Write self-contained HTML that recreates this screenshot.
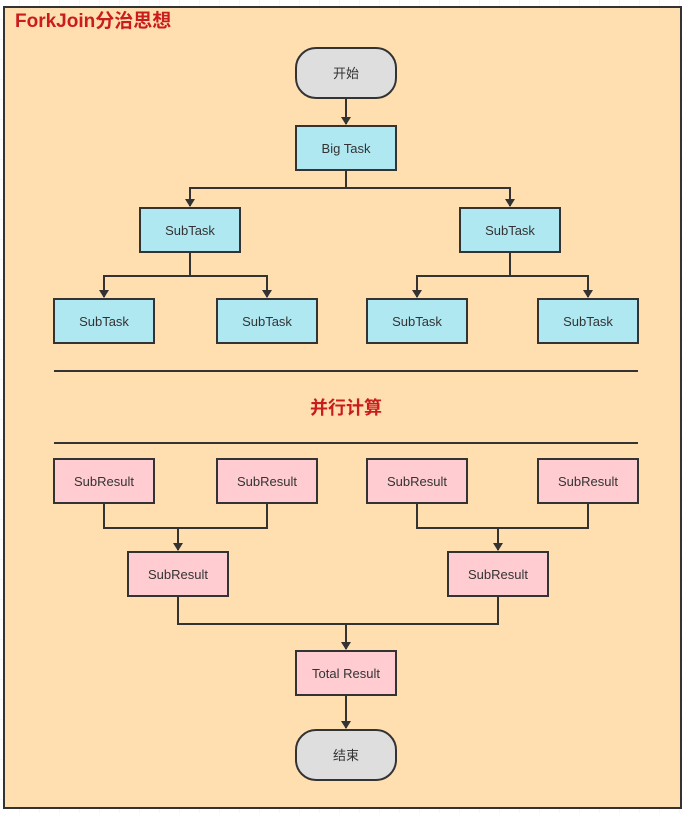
<!DOCTYPE html>
<html><head><meta charset="utf-8"><style>
html,body{margin:0;padding:0;background:#fff;}
svg text{font-family:"Liberation Sans","Noto Sans CJK SC",sans-serif;}
</style></head><body>
<svg width="683" height="813" viewBox="0 0 683 813" xmlns="http://www.w3.org/2000/svg">
<defs>
<pattern id="g" width="20" height="20" patternUnits="userSpaceOnUse"><path d="M20 0V20M0 20H20" stroke="#eee" stroke-width="1" fill="none"/></pattern>
<marker id="a" markerWidth="8" markerHeight="10" refX="7" refY="5" orient="auto" markerUnits="userSpaceOnUse"><path d="M0,0 L8,5 L0,10 Z" fill="#333"/></marker>
</defs>
<rect width="683" height="813" fill="url(#g)"/>
<rect x="4" y="7" width="677" height="801" fill="#ffdfb0" stroke="#333" stroke-width="2"/>
<text x="15" y="27" font-size="19" font-weight="bold" fill="#c91c1c">ForkJoin分治思想</text>
<g stroke="#333" stroke-width="2" fill="none">
<path d="M346 98V124" marker-end="url(#a)"/>
<path d="M346 170V188H190V206" marker-end="url(#a)"/>
<path d="M346 188H510V206" marker-end="url(#a)"/>
<path d="M190 252V276H104V297" marker-end="url(#a)"/>
<path d="M190 276H267V297" marker-end="url(#a)"/>
<path d="M510 252V276H417V297" marker-end="url(#a)"/>
<path d="M510 276H588V297" marker-end="url(#a)"/>
<path d="M54 371H638M54 443H638"/>
<path d="M104 503V528H267V503M178 528V550" marker-end="url(#a)"/>
<path d="M417 503V528H588V503M498 528V550" marker-end="url(#a)"/>
<path d="M178 596V624H498V596M346 624V649" marker-end="url(#a)"/>
<path d="M346 695V728" marker-end="url(#a)"/>
</g>
<g stroke="#333" stroke-width="2" font-size="13" fill="#333" text-anchor="middle">
<rect x="296" y="48" width="100" height="50" rx="20" fill="#dedede"/>
<rect x="296" y="126" width="100" height="44" fill="#b0e8f2"/>
<rect x="140" y="208" width="100" height="44" fill="#b0e8f2"/>
<rect x="460" y="208" width="100" height="44" fill="#b0e8f2"/>
<rect x="54" y="299" width="100" height="44" fill="#b0e8f2"/>
<rect x="217" y="299" width="100" height="44" fill="#b0e8f2"/>
<rect x="367" y="299" width="100" height="44" fill="#b0e8f2"/>
<rect x="538" y="299" width="100" height="44" fill="#b0e8f2"/>
<rect x="54" y="459" width="100" height="44" fill="#ffccd2"/>
<rect x="217" y="459" width="100" height="44" fill="#ffccd2"/>
<rect x="367" y="459" width="100" height="44" fill="#ffccd2"/>
<rect x="538" y="459" width="100" height="44" fill="#ffccd2"/>
<rect x="128" y="552" width="100" height="44" fill="#ffccd2"/>
<rect x="448" y="552" width="100" height="44" fill="#ffccd2"/>
<rect x="296" y="651" width="100" height="44" fill="#ffccd2"/>
<rect x="296" y="730" width="100" height="50" rx="20" fill="#dedede"/>
</g>
<g font-size="13" fill="#333" text-anchor="middle">
<text x="346" y="78">开始</text>
<text x="346" y="153">Big Task</text>
<text x="190" y="235">SubTask</text>
<text x="510" y="235">SubTask</text>
<text x="104" y="326">SubTask</text>
<text x="267" y="326">SubTask</text>
<text x="417" y="326">SubTask</text>
<text x="588" y="326">SubTask</text>
<text x="104" y="486">SubResult</text>
<text x="267" y="486">SubResult</text>
<text x="417" y="486">SubResult</text>
<text x="588" y="486">SubResult</text>
<text x="178" y="579">SubResult</text>
<text x="498" y="579">SubResult</text>
<text x="346" y="678">Total Result</text>
<text x="346" y="760">结束</text>
</g>
<text x="346" y="414" font-size="18" font-weight="bold" fill="#c91c1c" text-anchor="middle">并行计算</text>
</svg>
</body></html>
